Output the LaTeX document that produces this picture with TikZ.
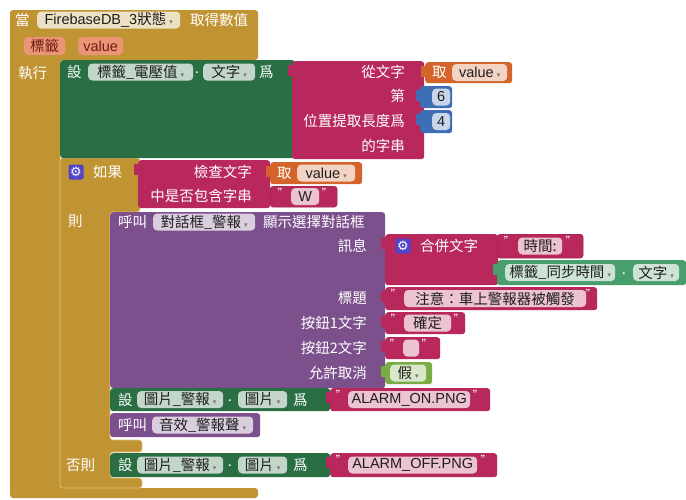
\documentclass[tikz,border=0pt]{standalone}
\usepackage{fontspec}
\setmainfont{Noto Sans CJK TC}
\newfontfamily\latf{Liberation Sans}
\newfontfamily\symf{DejaVu Sans}
\definecolor{gold}{RGB}{192,148,50}
\definecolor{goldline}{RGB}{222,196,130}
\definecolor{setg}{RGB}{42,110,68}
\definecolor{mag}{RGB}{184,40,92}
\definecolor{org}{RGB}{212,100,42}
\definecolor{blu}{RGB}{62,110,180}
\definecolor{pur}{RGB}{124,80,140}
\definecolor{lgrn}{RGB}{120,172,68}
\definecolor{tgrn}{RGB}{72,158,108}
\definecolor{gearc}{RGB}{80,68,200}
\definecolor{txt}{RGB}{30,30,30}
\definecolor{parf}{RGB}{236,148,118}
\definecolor{part}{RGB}{110,30,20}
\definecolor{arrowgray}{RGB}{120,120,120}
\newcommand\lat[1]{{\latf #1}}
\newcommand\ddarrow{\hspace{3pt}{\symf\fontsize{7}{7}\selectfont\textcolor{arrowgray}{▾}}}
\newcommand\fs{\fontsize{14.5}{17}\selectfont}
\newcommand\vtab[2]{\fill[#2] ([xshift=-4pt,yshift=-4pt]#1.north west) rectangle ([yshift=-15pt]#1.north west);}
\begin{document}
\begin{tikzpicture}[x=1pt,y=-1pt,
  blk/.style={rectangle, rounded corners=3pt, inner sep=0pt, anchor=north west},
  lab/.style={text=white, inner sep=0pt, font=\fs},
  fld/.style={rectangle, fill=white, fill opacity=0.72, text opacity=1, text=txt, rounded corners=4pt, inner xsep=3pt, inner ysep=0pt, minimum height=17pt, font=\fs, anchor=west},
  par/.style={rectangle, fill=parf, text=part, rounded corners=4pt, inner xsep=3pt, inner ysep=0pt, minimum height=18pt, font=\fs, anchor=west},
  quo/.style={text=white, inner sep=0pt, font=\fontsize{11}{11}\selectfont},
  gearbox/.style={rectangle, fill=gearc, rounded corners=2pt, minimum size=15pt, inner sep=0pt, text=white, font=\symf\fontsize{13}{13}\selectfont}
]
\useasboundingbox (0,0) rectangle (686,499);
\fill[white] (0,0) rectangle (686,499);

% event block
\fill[gold, rounded corners=3pt] (10,10) -- (258,10) -- (258,60) -- (60,60) -- (60,488) -- (258,488) -- (258,498) -- (10,498) -- cycle;
\node[lab, anchor=west] (dang) at (15,20) {當};
\node[fld, minimum width=143pt] (fb) at (37,20) {\lat{FirebaseDB\_3}狀態\ddarrow};
\node[lab, anchor=west] (qude) at (190,20) {取得數值};
\node[par, minimum width=41pt] (p1) at (24,46) {標籤};
\node[par, minimum width=45pt] (p2) at (78,46) {\lat{value}};
\node[lab, anchor=west] (zhixing) at (18,73) {執行};

% if block
\draw[fill=gold, draw=goldline, line width=0.6pt, rounded corners=3pt] (60,158) -- (140,158) -- (140,212) -- (110,212) -- (110,440) -- (142,440) -- (142,452) -- (110,452) -- (110,478) -- (142,478) -- (142,488) -- (60,488) -- cycle;
\node[gearbox] (gear1) at (76,172) {⚙};
\node[lab, anchor=west] (ruguo) at (93,172) {如果};
\node[lab, anchor=west] (ze) at (68,221) {則};
\node[lab, anchor=west] (fouze) at (66,465) {否則};

% set label text block
\node[blk, fill=setg, minimum width=235pt, minimum height=98pt] (set1) at (60,60) {};
\node[lab, anchor=west] (s1a) at (67,72) {設};
\node[fld, minimum width=105pt] (s1b) at (88,72) {標籤\_電壓值\ddarrow};
\node[lab] (s1c) at (197,73) {.};
\node[fld, minimum width=52pt] (s1d) at (203,72) {文字\ddarrow};
\node[lab, anchor=west] (s1e) at (259,72) {爲};

% substring block
\node[blk, fill=mag, minimum width=132pt, minimum height=98pt] (sub) at (292,61) {};
\vtab{sub}{mag}
\node[lab, anchor=east] (su1) at (405,72) {從文字};
\node[lab, anchor=east] (su2) at (405,96) {第};
\node[lab, anchor=east] (su3) at (405,121) {位置提取長度爲};
\node[lab, anchor=east] (su4) at (405,146) {的字串};
\node[blk, fill=org, minimum width=87pt, minimum height=21pt] (get1) at (425,62) {};
\vtab{get1}{org}
\node[lab, anchor=west] (g1a) at (432,72.5) {取};
\node[fld, minimum width=55pt] (g1b) at (452,72.5) {\lat{value}\ddarrow};
\node[blk, fill=blu, minimum width=32pt, minimum height=22pt] (num6) at (420,86) {};
\vtab{num6}{blu}
\node[fld, minimum width=18pt] (n6) at (432,97) {\lat{6}};
\node[blk, fill=blu, minimum width=32pt, minimum height=23pt] (num4) at (420,110) {};
\vtab{num4}{blu}
\node[fld, minimum width=18pt] (n4) at (432,121.5) {\lat{4}};

% contains block
\node[blk, fill=mag, minimum width=132pt, minimum height=48pt] (chk) at (138,160) {};
\vtab{chk}{mag}
\node[lab, anchor=east] (c1) at (252,172) {檢查文字};
\node[lab, anchor=east] (c2) at (252,196) {中是否包含字串};
\node[blk, fill=org, minimum width=92pt, minimum height=22pt] (get2) at (270,162) {};
\vtab{get2}{org}
\node[lab, anchor=west] (g2a) at (277,173) {取};
\node[fld, minimum width=58pt] (g2b) at (297,173) {\lat{value}\ddarrow};
\node[blk, fill=mag, draw=mag!80!black, line width=0.4pt, minimum width=67pt, minimum height=21pt] (txtw) at (270,186) {};
\node[quo] (qw1) at (283,193) {"};
\node[fld, minimum width=28pt] (w) at (291,196.5) {\lat{W}};
\node[quo] (qw2) at (327,193) {"};

% dialog call block
\node[blk, fill=pur, minimum width=275pt, minimum height=176pt] (dlg) at (110,212) {};
\node[lab, anchor=west] (d1) at (118,222) {呼叫};
\node[fld, minimum width=102pt] (d2) at (153,222) {對話框\_警報\ddarrow};
\node[lab, anchor=west] (d3) at (263,222) {顯示選擇對話框};
\node[lab, anchor=east] (d4) at (367,246) {訊息};
\node[lab, anchor=east] (d5) at (367,298) {標題};
\node[lab, anchor=east] (d6) at (367,323) {按鈕1文字};
\node[lab, anchor=east] (d7) at (367,348) {按鈕2文字};
\node[lab, anchor=east] (d8) at (367,373) {允許取消};

% join block
\node[blk, fill=mag, minimum width=113pt, minimum height=51pt] (join) at (385,234) {};
\vtab{join}{mag}
\node[gearbox] (gear2) at (403,246) {⚙};
\node[lab, anchor=west] (j1) at (420,246) {合併文字};
\node[blk, fill=mag, draw=mag!80!black, line width=0.4pt, minimum width=86pt, minimum height=24pt] (tshi) at (497,234) {};
\node[quo] (qs1) at (509,241) {"};
\node[fld, minimum width=44pt] (shi) at (518,246) {時間:};
\node[quo] (qs2) at (571,241) {"};
\node[blk, fill=tgrn, minimum width=189pt, minimum height=25pt] (getg) at (497,260) {};
\vtab{getg}{tgrn}
\node[fld, minimum width=110pt] (gg1) at (505,272.5) {標籤\_同步時間\ddarrow};
\node[lab] (gg2) at (624,273.5) {.};
\node[fld, minimum width=46pt] (gg3) at (633,272.5) {文字\ddarrow};

% title text
\node[blk, fill=mag, minimum width=212pt, minimum height=23pt] (ttl) at (385,287) {};
\vtab{ttl}{mag}
\node[quo] (qt1) at (396,294) {"};
\node[fld, minimum width=182pt] (ttlf) at (404,298.5) {注意：車上警報器被觸發};
\node[quo] (qt2) at (591,294) {"};
% button1
\node[blk, fill=mag, minimum width=80pt, minimum height=22pt] (b1) at (385,312) {};
\vtab{b1}{mag}
\node[quo] (qb1) at (396,319) {"};
\node[fld, minimum width=47pt] (b1f) at (404,323) {確定};
\node[quo] (qb2) at (459,319) {"};
% button2
\node[blk, fill=mag, minimum width=55pt, minimum height=22pt] (b2) at (385,337) {};
\vtab{b2}{mag}
\node[quo] (qc1) at (395,344) {"};
\node[fld, minimum width=16pt] (b2f) at (403,348) {};
\node[quo] (qc2) at (427,344) {"};
% false
\node[blk, fill=lgrn, minimum width=47pt, minimum height=22pt] (fls) at (385,362) {};
\vtab{fls}{lgrn}
\node[fld, minimum width=36pt] (flsf) at (390,373) {假\ddarrow};

% set image ON
\node[blk, fill=setg, minimum width=220pt, minimum height=23pt] (son) at (110,388) {};
\node[lab, anchor=west] (so1) at (118,399.5) {設};
\node[fld, minimum width=86pt] (so2) at (137,399.5) {圖片\_警報\ddarrow};
\node[lab] (so3) at (230,400.5) {.};
\node[fld, minimum width=49pt] (so4) at (238,399.5) {圖片\ddarrow};
\node[lab, anchor=west] (so5) at (293,399.5) {爲};
\node[blk, fill=mag, minimum width=160pt, minimum height=23pt] (ton) at (330,388) {};
\vtab{ton}{mag}
\node[quo] (qo1) at (341,395) {"};
\node[fld, minimum width=122pt] (tonf) at (348,399.5) {\lat{ALARM\_ON.PNG}};
\node[quo] (qo2) at (478,395) {"};

% sound call
\node[blk, fill=pur, minimum width=150pt, minimum height=24pt] (snd) at (110,413) {};
\node[lab, anchor=west] (sn1) at (118,425) {呼叫};
\node[fld, minimum width=101pt] (sn2) at (152,425) {音效\_警報聲\ddarrow};

% set image OFF
\node[blk, fill=setg, minimum width=220pt, minimum height=24pt] (soff) at (110,453) {};
\node[lab, anchor=west] (sf1) at (118,465) {設};
\node[fld, minimum width=86pt] (sf2) at (137,465) {圖片\_警報\ddarrow};
\node[lab] (sf3) at (230,466) {.};
\node[fld, minimum width=49pt] (sf4) at (238,465) {圖片\ddarrow};
\node[lab, anchor=west] (sf5) at (293,465) {爲};
\node[blk, fill=mag, minimum width=167pt, minimum height=24pt] (toff) at (330,453) {};
\vtab{toff}{mag}
\node[quo] (qf1) at (341,460) {"};
\node[fld, minimum width=129pt] (tofff) at (348,465) {\lat{ALARM\_OFF.PNG}};
\node[quo] (qf2) at (486,460) {"};
\end{tikzpicture}
\end{document}
